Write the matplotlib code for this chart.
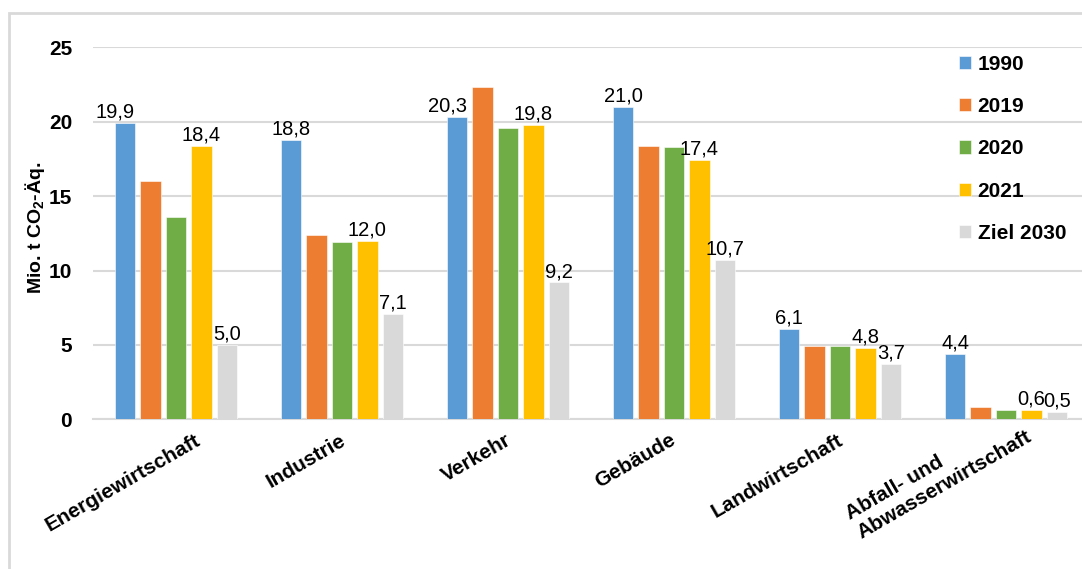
import matplotlib
matplotlib.use("Agg")
import matplotlib.pyplot as plt
import matplotlib.transforms as mtransforms
from matplotlib.patches import Rectangle
import numpy as np

plt.rcParams['font.family'] = ['Liberation Sans', 'DejaVu Sans']
plt.rcParams['mathtext.fontset'] = 'custom'
plt.rcParams['mathtext.rm'] = 'Liberation Sans:bold'
plt.rcParams['mathtext.default'] = 'rm'

# data
sectors = ["Energiewirtschaft", "Industrie", "Verkehr", "Gebäude",
           "Landwirtschaft", "Abfall- und\nAbwasserwirtschaft"]
series_names = ["1990", "2019", "2020", "2021", "Ziel 2030"]
v1990 = [19.9, 18.8, 20.3, 21.0, 6.1, 4.4]
v2019 = [16.0, 12.4, 22.3, 18.4, 4.9, 0.8]
v2020 = [13.6, 11.9, 19.6, 18.3, 4.9, 0.6]
v2021 = [18.4, 12.0, 19.8, 17.4, 4.8, 0.6]
ziel2030 = [5.0, 7.1, 9.2, 10.7, 3.7, 0.5]
# which series get value labels
labelled = [True, False, False, True, True]

colors = ["#5B9BD5", "#ED7D31", "#70AD47", "#FFC000", "#D9D9D9"]

fig = plt.figure(figsize=(10.82, 5.69), dpi=100)
W, H = 1082, 569
ax = fig.add_axes([93 / W, 1 - 419.3 / H, 996 / W, (419.3 - 47.3) / H])

# outer chart frame
fig.patches.append(Rectangle((9 / W, -0.05), 1.1, 1 - 13 / H + 0.05,
                             transform=fig.transFigure, fill=False,
                             edgecolor="#D9D9D9", linewidth=2))

x = np.arange(len(sectors))
slot = 0.153
bw = 0.124
all_vals = [v1990, v2019, v2020, v2021, ziel2030]
for i, (vals, name, c) in enumerate(zip(all_vals, series_names, colors)):
    pos = x + (i - 2) * slot
    bars = ax.bar(pos, vals, width=bw, color=c, label=name, zorder=3,
                  edgecolor="white", linewidth=0.4)
    if labelled[i]:
        txts = ax.bar_label(bars, labels=[f"{v:.1f}".replace(".", ",") for v in vals],
                            padding=1, fontsize=14.5, color="black")
        if i == 0:
            # a couple of 1990 labels sit a bit to the left in the original
            for k in (0, 2):
                txts[k].xyann = (-7, txts[k].xyann[1])

ax.set_ylim(0, 25)
ax.set_xlim(-0.5, 5.5)
ax.set_yticks([0, 5, 10, 15, 20, 25])
ax.yaxis.grid(True, color="#D9D9D9", linewidth=1.5, zorder=0)
ax.set_axisbelow(True)
for s in ["top", "right", "left"]:
    ax.spines[s].set_visible(False)
ax.spines["bottom"].set_color("#D9D9D9")
ax.spines["bottom"].set_linewidth(1.5)
ax.tick_params(axis="both", length=0)
ax.tick_params(axis="y", pad=15, labelsize=15)
for t in ax.get_yticklabels():
    t.set_fontweight("bold")

ax.set_xticks(x)
ax.set_xticklabels(sectors, rotation=30, ha="right", rotation_mode="anchor",
                   fontsize=15, fontweight="bold", multialignment="left")
ax.tick_params(axis="x", pad=8)
# shift labels like the original layout (pixels)
shifts = [(18, 0), (-2, 0), (-3, 0), (-5, 0), (-3, 0), (8, 22)]
for t, (dx, dy) in zip(ax.get_xticklabels(), shifts):
    t.set_transform(t.get_transform() + mtransforms.ScaledTranslation(dx / 100, dy / 100, fig.dpi_scale_trans))

fig.text(35 / W, 1 - 228 / H, r"Mio. t CO$_2$-Äq.", rotation=90, fontsize=14,
         fontweight="bold", ha="center", va="center")

leg = ax.legend(loc="upper left", bbox_to_anchor=(940 / W, 1 - 36 / H),
                bbox_transform=fig.transFigure, frameon=False,
                prop={"weight": "bold", "size": 15}, handlelength=0.6,
                handleheight=0.6, handletextpad=0.3, labelspacing=1.12)

fig.savefig("out.png", dpi=100)
